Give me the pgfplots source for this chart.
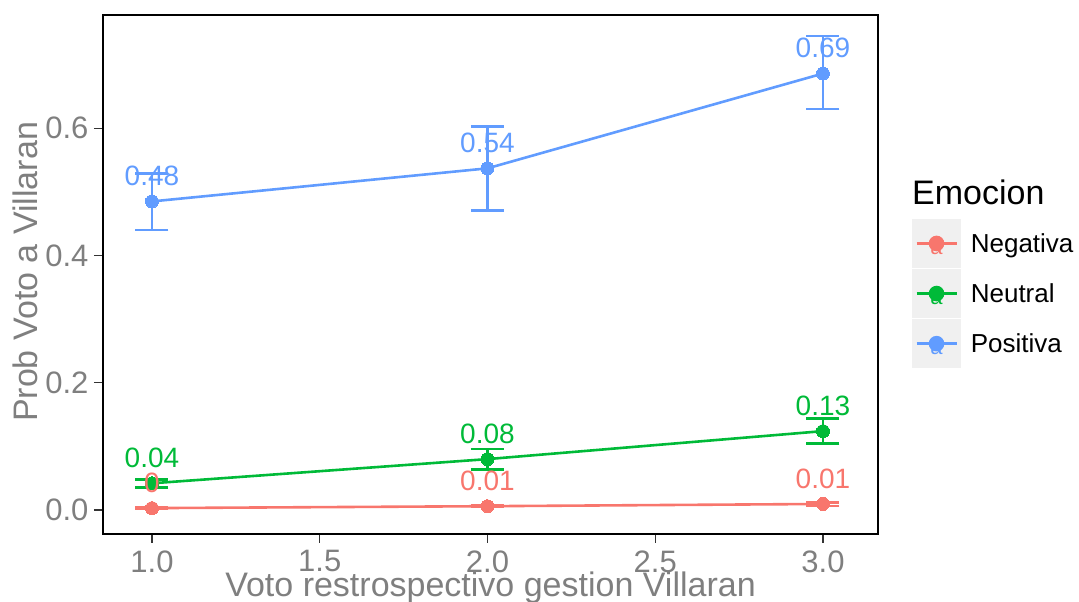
\documentclass[border=0pt]{standalone}
\usepackage{pgfplots}
\pgfplotsset{compat=1.18}
\usepackage{pgfplotstable}
\usepackage{fontspec}
\setmainfont{Liberation Sans}
\definecolor{cneg}{HTML}{F8766D}
\definecolor{cneu}{HTML}{00BA38}
\definecolor{cpos}{HTML}{619CFF}
\definecolor{axgray}{HTML}{7F7F7F}

\pgfplotstableread{
x y ep em lab
1 0.003 0.0015 0.0015 0
2 0.006 0.0015 0.0015 0.01
3 0.0095 0.0025 0.003 0.01
}\negdata
\pgfplotstableread{
x y ep em lab
1 0.042 0.006 0.007 0.04
2 0.080 0.016 0.016 0.08
3 0.124 0.020 0.019 0.13
}\neudata
\pgfplotstableread{
x y ep em lab
1 0.485 0.044 0.045 0.48
2 0.537 0.066 0.066 0.54
3 0.686 0.059 0.056 0.69
}\posdata

\pgfplotsset{
  series/.style={#1, line width=2.6pt, mark=*, mark size=6.5pt, mark options={solid, line width=0pt},
    error bars/.cd, y dir=both, y explicit,
    error bar style={line width=2.6pt},
    error mark options={rotate=90, line width=2.6pt, mark size=16.5pt}},
  labs/.style={draw=none, mark=none, forget plot, nodes near coords, point meta=explicit symbolic,
    every node near coord/.append style={anchor=center, yshift=25.5pt, inner sep=0pt,
      font=\fontsize{28}{28}\selectfont, text=#1}},
}

\begin{document}
\begin{tikzpicture}
\path[use as bounding box] (-103pt,-68pt) rectangle (976pt,534pt);
\begin{axis}[
  at={(0pt,0pt)}, anchor=south west,
  scale only axis, width=775pt, height=519pt,
  xmin=0.854, xmax=3.164, ymin=-0.0377, ymax=0.778,
  xtick={1,1.5,2,2.5,3}, ytick={0,0.2,0.4,0.6},
  xticklabels={1.0,1.5,2.0,2.5,3.0}, yticklabels={0.0,0.2,0.4,0.6},
  tick align=outside, major tick length=9pt,
  xtick pos=lower, ytick pos=left,
  tick style={color=black!80, line width=1.3pt},
  axis line style={black, line width=1.2pt},
  ticklabel style={font=\fontsize{31}{31}\selectfont, text=axgray},
  xticklabel style={yshift=-4pt},
  yticklabel style={xshift=-2pt},
  /pgf/number format/assume math mode=true,
  every axis x label/.style={at={(axis description cs:0.5,0)}, anchor=base, yshift=-62pt},
  every axis y label/.style={at={(axis description cs:-0.0839,0.5048)}, rotate=90, anchor=base},
  label style={font=\fontsize{34}{34}\selectfont, text=axgray},
  xlabel={Voto restrospectivo gestion Villaran},
  ylabel={Prob Voto a Villaran},
  legend cell align=left,
  legend style={draw=none, fill=none, at={(axis description cs:1.0439,0.607)}, anchor=north west,
    font=\fontsize{26}{26}\selectfont, row sep=1.5pt, inner sep=0pt,
    nodes={inner sep=0pt},
    /tikz/every odd column/.append style={column sep=10pt}},
  legend image code/.code={
    \fill[black!6] (0pt,-23pt) rectangle (46pt,23pt);
    \draw[line width=2.6pt] (3pt,0pt) -- (43pt,0pt);
    \fill (23pt,0pt) circle (6.5pt);
    \node[font=\fontsize{22}{22}\selectfont, inner sep=0pt, anchor=base] at (23pt,-11pt) {a};
  },
]
\addplot[series=cneg] table[x=x, y=y, y error plus=ep, y error minus=em]{\negdata};
\addlegendentry{Negativa}
\addplot[series=cneu] table[x=x, y=y, y error plus=ep, y error minus=em]{\neudata};
\addlegendentry{Neutral}
\addplot[series=cpos] table[x=x, y=y, y error plus=ep, y error minus=em]{\posdata};
\addlegendentry{Positiva}

\addplot[labs=cneg] table[x=x, y=y, meta=lab]{\negdata};
\addplot[labs=cneu] table[x=x, y=y, meta=lab]{\neudata};
\addplot[labs=cpos] table[x=x, y=y, meta=lab]{\posdata};
\end{axis}
\node[anchor=base west, inner sep=0pt, font=\fontsize{34}{34}\selectfont] at (809pt,329pt) {Emocion};
\end{tikzpicture}
\end{document}
